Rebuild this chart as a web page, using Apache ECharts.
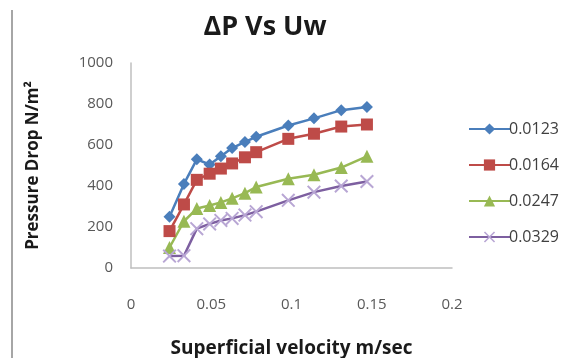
<!DOCTYPE html>
<html>
<head>
<meta charset="utf-8">
<script src="https://cdn.jsdelivr.net/npm/echarts@6/dist/echarts.min.js"></script>
<style>html,body{margin:0;padding:0;background:#fff;}#c{width:581px;height:358px;}</style>
</head>
<body>
<div id="c"></div>
<script>
var xValues = [0.024, 0.033, 0.041, 0.049, 0.056, 0.063, 0.071, 0.078, 0.098, 0.114, 0.131, 0.147];
var seriesNames = ['0.0123', '0.0164', '0.0247', '0.0329'];
var s0123 = [250, 410, 530, 505, 545, 585, 615, 640, 695, 730, 770, 785];
var s0164 = [180, 310, 430, 460, 485, 510, 540, 565, 630, 655, 690, 700];
var s0247 = [100, 228, 290, 305, 320, 340, 365, 395, 435, 455, 490, 545];
var s0329 = [58, 60, 192, 215, 232, 242, 258, 275, 330, 370, 400, 422];
var xTicks = [0, 0.05, 0.1, 0.15, 0.2];
var yTicks = [0, 200, 400, 600, 800, 1000];

var FONT = 'Open Sans';
function pairs(ys) { return xValues.map(function (x, i) { return [x, ys[i]]; }); }
var xPath = 'path://M2,0 L10,8 L18,0 L20,2 L12,10 L20,18 L18,20 L10,12 L2,20 L0,18 L8,10 L0,2 Z';
var colors = ['#4A7EBB', '#BE4B48', '#98B954', '#7D5FA0'];
var symbols = ['diamond', 'rect', 'triangle', xPath];
var sizes = [12, 12, 13, 14];
var data = [s0123, s0164, s0247, s0329];

var series = seriesNames.map(function (n, i) {
  return {
    name: n, type: 'line', data: pairs(data[i]),
    symbol: symbols[i], symbolSize: sizes[i],
    showAllSymbol: true,
    lineStyle: { color: colors[i], width: 2.5 },
    itemStyle: { color: i === 3 ? '#B8A6D4' : colors[i] },
    color: colors[i],
    emphasis: { disabled: true },
    animation: false
  };
});

var chart = echarts.init(document.getElementById('c'), null, { renderer: 'canvas' });
chart.setOption({
  animation: false,
  backgroundColor: '#fff',
  grid: { left: 131, right: 129, top: 63, bottom: 90, containLabel: false, outerBoundsMode: 'none' },
  graphic: [
    { type: 'rect', shape: { x: 11, y: 10, width: 2, height: 348 }, style: { fill: '#a6a6a6' } },
    { type: 'text', x: 265, y: 14, style: { text: 'ΔP Vs Uw', font: 'bold 27px "Open Sans"', fill: '#1a1a1a', textAlign: 'center' } }
  ],
  legend: {
    orient: 'vertical', left: 463, top: 116,
    itemWidth: 41, itemHeight: 14, itemGap: 20,
    textStyle: { fontFamily: FONT, fontSize: 16, color: '#404040', padding: [0, 0, 0, -6] },
    data: seriesNames
  },
  xAxis: {
    type: 'value', min: 0, max: 0.2, interval: 0.05,
    axisLine: { lineStyle: { color: '#BFBFBF', width: 1.5 } },
    axisTick: { show: false },
    splitLine: { show: false },
    axisLabel: { fontFamily: FONT, fontSize: 15, color: '#595959', margin: 29,
      formatter: function (v) { return String(+v.toFixed(2)); } },
    name: 'Superficial velocity m/sec', nameLocation: 'middle', nameGap: 71,
    nameTextStyle: { fontFamily: FONT, fontSize: 19, fontWeight: 'bold', color: '#1a1a1a' }
  },
  yAxis: {
    type: 'value', min: 0, max: 1000, interval: 200,
    axisLine: { show: true, lineStyle: { color: '#BFBFBF', width: 1.5 } },
    axisTick: { show: false },
    splitLine: { show: false },
    axisLabel: { fontFamily: FONT, fontSize: 15, color: '#595959', margin: 18,
      formatter: function (v) { return String(v); } },
    name: 'Pressure Drop N/m²', nameLocation: 'middle', nameGap: 89,
    nameTextStyle: { fontFamily: FONT, fontSize: 17, fontWeight: 'bold', color: '#1a1a1a' }
  },
  series: series
});
</script>
</body>
</html>
